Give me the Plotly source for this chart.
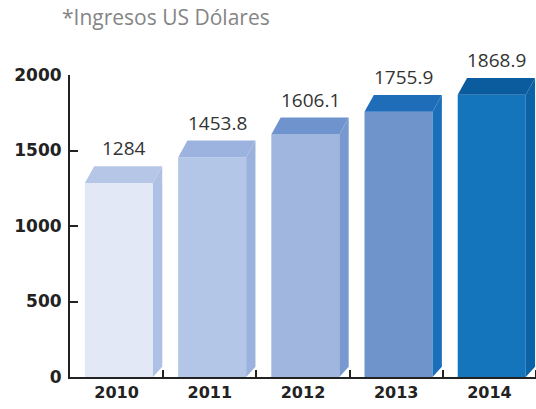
import plotly.graph_objects as go

years = ["2010", "2011", "2012", "2013", "2014"]
values = [1284, 1453.8, 1606.1, 1755.9, 1868.9]
value_labels = ["1284", "1453.8", "1606.1", "1755.9", "1868.9"]
front_colors = ["#e2e8f5", "#b4c6e7", "#a0b6df", "#6f93cb", "#1475bd"]
top_colors = ["#b5c6e6", "#9db3df", "#6f94cd", "#1f6db8", "#0b5c9e"]
side_colors = ["#aec1e4", "#9cb2de", "#7898d0", "#1b6fba", "#0c62a6"]

pos = list(range(len(years)))
left_off = -0.34
bar_w = 0.73
dx = 0.10
dy = 112

fig = go.Figure()
fig.add_trace(go.Bar(x=pos, y=values, width=bar_w, offset=left_off,
                     marker=dict(color=front_colors, line=dict(width=0)),
                     hoverinfo="skip", cliponaxis=False))

for i, v in enumerate(values):
    x0 = pos[i] + left_off
    x1 = x0 + bar_w
    # top face
    fig.add_trace(go.Scatter(x=[x0, x0 + dx, x1 + dx, x1, x0], y=[v, v + dy, v + dy, v, v],
                             fill="toself", fillcolor=top_colors[i], mode="lines",
                             line=dict(width=0, color=top_colors[i]), hoverinfo="skip", cliponaxis=False))
    # side face
    fig.add_trace(go.Scatter(x=[x1, x1 + dx, x1 + dx, x1, x1], y=[0, dy * 0.6, v + dy, v, 0],
                             fill="toself", fillcolor=side_colors[i], mode="lines",
                             line=dict(width=0, color=side_colors[i]), hoverinfo="skip", cliponaxis=False))
    fig.add_annotation(x=pos[i] + 0.08, y=v + dy, text=value_labels[i], showarrow=False,
                       yanchor="bottom", yshift=3,
                       font=dict(family="Open Sans", size=19, color="#333333"))

fig.add_annotation(x=0, y=1, xref="paper", yref="paper", xanchor="left", yanchor="bottom",
                   xshift=-10, yshift=42, text="*Ingresos US Dólares", showarrow=False,
                   font=dict(family="Open Sans", size=21, color="#858585"))

fig.update_layout(
    width=536, height=409,
    margin=dict(l=70, r=0, t=75, b=32),
    paper_bgcolor="white", plot_bgcolor="white",
    showlegend=False,
    xaxis=dict(range=[-0.5, 4.5], tickvals=pos, ticktext=years, ticks="",
               showline=True, linecolor="#222222", linewidth=2, showgrid=False, zeroline=False,
               tickfont=dict(family="DejaVu Sans", size=16, color="#222222", weight="bold"),
               minor=dict(tickvals=[0.5, 1.5, 2.5, 3.5, 4.5], ticks="inside", ticklen=7,
                          tickwidth=2, tickcolor="#222222", showgrid=False),
               fixedrange=True),
    yaxis=dict(range=[0, 2000], tickvals=[0, 500, 1000, 1500, 2000], ticks="inside",
               ticklen=8, tickwidth=2, tickcolor="#222222",
               showline=True, linecolor="#222222", linewidth=2, showgrid=False, zeroline=False,
               ticklabelstandoff=3,
               tickfont=dict(family="DejaVu Sans", size=17, color="#222222", weight="bold"),
               fixedrange=True),
)

fig.write_html("out.html")
